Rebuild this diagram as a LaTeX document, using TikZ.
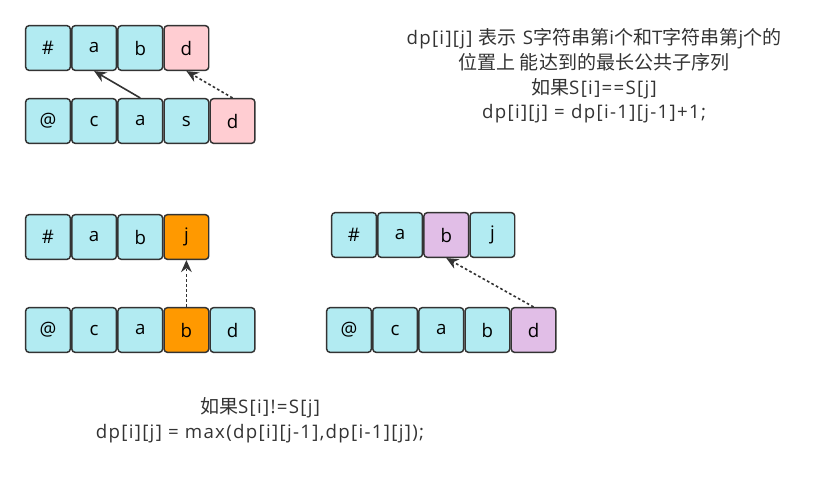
\documentclass[tikz,border=0pt]{standalone}
\usepackage{fontspec}
\setmainfont{Open Sans}[LetterSpace=7]
\newfontfamily\cjk{Noto Sans CJK SC}[Scale=1.02]
\usepackage{xcolor}
\usepackage{tikz}
\usetikzlibrary{arrows.meta, positioning}

\definecolor{cellcyan}{HTML}{B2EBF2}
\definecolor{cellpink}{HTML}{FFCDD2}
\definecolor{cellorange}{HTML}{FF9900}
\definecolor{cellpurple}{HTML}{E1BEE7}
\definecolor{edgegray}{HTML}{333333}

\begin{document}
\begin{tikzpicture}[x=0.75pt, y=-0.75pt, >=Stealth, font=\fontsize{14}{18.5}\selectfont]
    \tikzset{
        cell/.style={rectangle, draw=edgegray, fill=cellcyan, rounded corners=2.5pt, line width=1.1pt, minimum width=33.5pt, minimum height=33.5pt, inner sep=0pt, font=\fontsize{14}{16}\selectfont},
        pinkcell/.style={cell, fill=cellpink},
        orangecell/.style={cell, fill=cellorange},
        purplecell/.style={cell, fill=cellpurple},
        line/.style={draw=edgegray, line width=1.2pt, -{Stealth[length=9pt, width=8pt]}},
        dotline/.style={line, dash pattern=on 2pt off 1.8pt},
        note/.style={align=center, text=edgegray}
    }
    \useasboundingbox (0,0) rectangle (823,487);

    % S[i] == T[j]
    \node (OneTopHash) [cell] at (48,48) {\#};
    \node (OneTopA) [cell, right=0pt of OneTopHash] {a};
    \node (OneTopB) [cell, right=0pt of OneTopA] {b};
    \node (OneTopD) [pinkcell, right=0pt of OneTopB] {d};

    \node (OneBotAt) [cell] at (48,121) {@};
    \node (OneBotC) [cell, right=0pt of OneBotAt] {c};
    \node (OneBotA) [cell, right=0pt of OneBotC] {a};
    \node (OneBotS) [cell, right=0pt of OneBotA] {s};
    \node (OneBotD) [pinkcell, right=0pt of OneBotS] {d};

    \path [line] (OneBotA.north) -- (OneTopA.south);
    \path [dotline] (OneBotD.north) -- (OneTopD.south);

    % S[i] != T[j], from the left
    \node (TwoTopHash) [cell] at (48,237) {\#};
    \node (TwoTopA) [cell, right=0pt of TwoTopHash] {a};
    \node (TwoTopB) [cell, right=0pt of TwoTopA] {b};
    \node (TwoTopJ) [orangecell, right=0pt of TwoTopB] {j};

    \node (TwoBotAt) [cell] at (48,330) {@};
    \node (TwoBotC) [cell, right=0pt of TwoBotAt] {c};
    \node (TwoBotA) [cell, right=0pt of TwoBotC] {a};
    \node (TwoBotB) [orangecell, right=0pt of TwoBotA] {b};
    \node (TwoBotD) [cell, right=0pt of TwoBotB] {d};

    \path [dotline] (TwoBotB.north) -- (TwoTopJ.south);

    % S[i] != T[j], from above
    \node (ThreeTopHash) [cell] at (354,235) {\#};
    \node (ThreeTopA) [cell, right=0pt of ThreeTopHash] {a};
    \node (ThreeTopB) [purplecell, right=0pt of ThreeTopA] {b};
    \node (ThreeTopJ) [cell, right=0pt of ThreeTopB] {j};

    \node (ThreeBotAt) [cell] at (349,330) {@};
    \node (ThreeBotC) [cell, right=0pt of ThreeBotAt] {c};
    \node (ThreeBotA) [cell, right=0pt of ThreeBotC] {a};
    \node (ThreeBotB) [cell, right=0pt of ThreeBotA] {b};
    \node (ThreeBotD) [purplecell, right=0pt of ThreeBotB] {d};

    \path [dotline] (ThreeBotD.north) -- (ThreeTopB.south);

    % Notes
    \node (NoteEqual) [note] at (594,76) {dp[i][j] {\cjk 表示} S{\cjk 字符串第}i{\cjk 个和}T{\cjk 字符串第}j{\cjk 个的}\\{\cjk 位置上 能达到的最长公共子序列}\\{\cjk 如果}S[i]==S[j]\\dp[i][j] = dp[i-1][j-1]+1;};
    \node (NoteDiff) [note] at (260,420) {{\cjk 如果}S[i]!=S[j]\\dp[i][j] = max(dp[i][j-1],dp[i-1][j]);};

\end{tikzpicture}
\end{document}
